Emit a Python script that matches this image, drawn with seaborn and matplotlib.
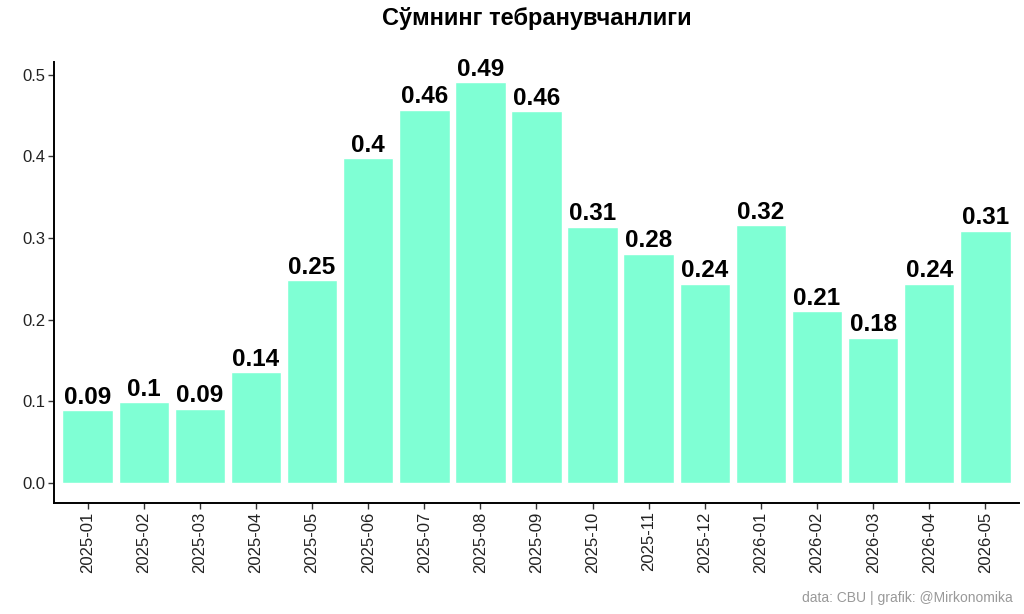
import matplotlib
matplotlib.use("Agg")
import matplotlib.pyplot as plt
import seaborn as sns
import pandas as pd

months = ["2025-01", "2025-02", "2025-03", "2025-04", "2025-05", "2025-06",
          "2025-07", "2025-08", "2025-09", "2025-10", "2025-11", "2025-12",
          "2026-01", "2026-02", "2026-03", "2026-04", "2026-05"]
volatility = [0.089, 0.099, 0.091, 0.136, 0.248, 0.398,
              0.457, 0.491, 0.455, 0.314, 0.281, 0.244,
              0.316, 0.210, 0.178, 0.244, 0.309]
title = "Сўмнинг тебранувчанлиги"
caption = "data: CBU | grafik: @Mirkonomika"

df = pd.DataFrame({"month": months, "vol": volatility})

sns.set_style("white")
plt.rcParams["font.family"] = ["Liberation Sans", "DejaVu Sans"]

fig = plt.figure(figsize=(10.24, 6.14), dpi=100)
ax = fig.add_axes([54 / 1024, 1 - 503 / 614, (1019 - 54) / 1024, (503 - 62) / 614])

sns.barplot(data=df, x="month", y="vol", color="#7FFFD4", saturation=1,
            width=0.9, ax=ax)

# value labels, rounded like R's default print
labels = [f"{round(v, 2):g}" for v in volatility]
ax.bar_label(ax.containers[0], labels=labels, padding=1,
             fontsize=17.5, fontweight="bold", color="black")

ymax = max(volatility)
ax.set_ylim(-0.05 * ymax, ymax * 1.05)
ax.set_xlim(-0.6, len(months) - 0.4)
ax.set_yticks([0.0, 0.1, 0.2, 0.3, 0.4, 0.5])
ax.set_yticklabels(["0.0", "0.1", "0.2", "0.3", "0.4", "0.5"])
ax.set_xlabel("")
ax.set_ylabel("")
ax.tick_params(axis="x", labelrotation=90)
ax.tick_params(axis="both", labelsize=12, labelcolor="#222222", length=4,
               width=1, color="#333333", direction="out", pad=2,
               bottom=True, left=True)

for side in ["top", "right"]:
    ax.spines[side].set_visible(False)
for side in ["left", "bottom"]:
    ax.spines[side].set_linewidth(1.4)
    ax.spines[side].set_color("black")

fig.text((54 + 1019) / 2 / 1024, 1 - 18 / 614, title, ha="center", va="center",
         fontsize=17, fontweight="bold", color="black")
fig.text(1013 / 1024, 1 - 598 / 614, caption, ha="right", va="center",
         fontsize=10, color="#999999")

fig.savefig("out.png", dpi=100)
